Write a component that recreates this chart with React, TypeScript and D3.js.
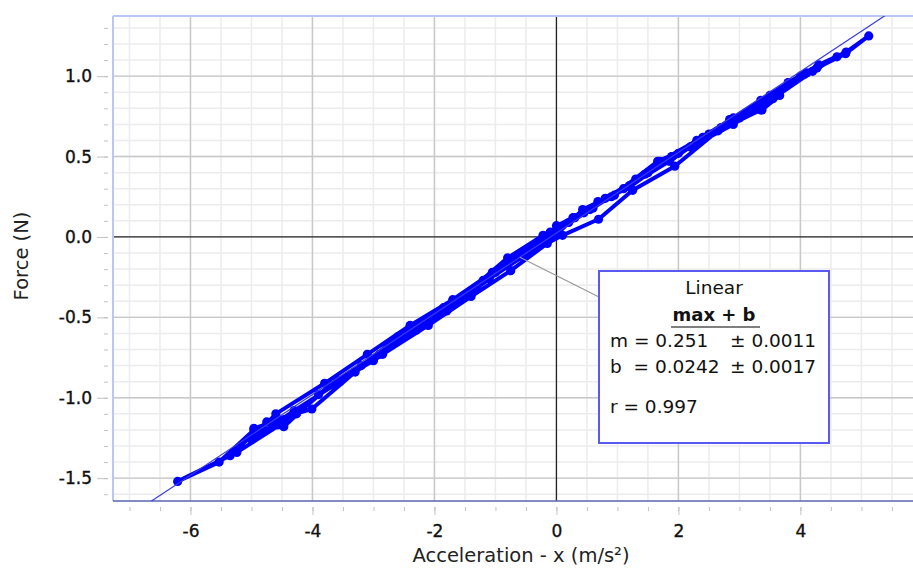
import React, { useEffect, useRef } from "react";
import * as d3 from "d3";

// tick values / labels
const xTicks = [-6, -4, -2, 0, 2, 4, 6];
const xTickLabels = ["-6", "-4", "-2", "0", "2", "4", "6"];
const yTicks = [-1.5, -1.0, -0.5, 0.0, 0.5, 1.0];
const yTickLabels = ["-1.5", "-1.0", "-0.5", "0.0", "0.5", "1.0"];

// measured run: acceleration (m/s²) and force (N), in recorded order
const accel = [
  0.0, 0.45, 0.95, 1.45, 1.9, 2.4, 2.85, 3.35, 3.8, 4.3, 4.75, 5.12,
  4.74, 4.06, 3.35, 2.65, 1.94, 1.25, 0.69, 0.1, -0.5, -1.1, -1.8, -2.5, -3.2, -3.9, -4.47, -4.96, -5.53, -6.21,
  -5.35, -4.75, -4.01, -3.3, -2.6, -1.85, -1.2, -0.6, -0.05, 0.55, 1.1, 1.7, 2.3, 2.9, 3.5, 4.0, 4.27,
  3.81, 3.1, 2.5, 1.85, 1.2, 0.68, 0.3, -0.22, -0.8, -1.54, -2.2, -2.9, -3.59, -4.26, -4.96, -5.24,
  -4.5, -3.7, -3.0, -2.3, -1.78, -1.0, -0.3, 0.27, 0.9, 1.66, 2.2, 2.84, 3.37, 3.66,
  3.0, 2.35, 1.89, 1.2, 0.43, -0.15, -0.75, -1.4, -2.1, -2.85, -3.55, -4.3, -5.0,
  -4.6, -3.8, -3.1, -2.4, -1.7, -1.05, -0.4, 0.2, 0.8, 1.5, 2.2, 2.9, 3.55, 4.2, 4.6,
  4.1, 3.4, 2.7, 2.0, 1.3, 0.6, -0.1,
];
const force = [
  0.07, 0.15, 0.26, 0.39, 0.5, 0.62, 0.73, 0.85, 0.96, 1.07, 1.15, 1.25,
  1.14, 1.01, 0.79, 0.66, 0.44, 0.29, 0.11, 0.01, -0.11, -0.26, -0.46, -0.61, -0.8, -0.98, -1.18, -1.2, -1.4, -1.52,
  -1.36, -1.15, -1.07, -0.84, -0.62, -0.44, -0.27, -0.12, 0.02, 0.17, 0.3, 0.47, 0.6, 0.74, 0.88, 1.0, 1.05,
  0.96, 0.77, 0.64, 0.47, 0.32, 0.22, 0.12, 0.01, -0.13, -0.37, -0.54, -0.73, -0.89, -1.1, -1.19, -1.34,
  -1.16, -0.92, -0.77, -0.58, -0.45, -0.22, -0.03, 0.12, 0.25, 0.47, 0.56, 0.73, 0.79, 0.88,
  0.74, 0.6, 0.5, 0.31, 0.17, -0.04, -0.21, -0.37, -0.55, -0.73, -0.9, -1.08, -1.26,
  -1.1, -0.91, -0.73, -0.55, -0.39, -0.22, -0.06, 0.09, 0.24, 0.4, 0.56, 0.7, 0.86, 1.03, 1.12,
  1.02, 0.85, 0.68, 0.52, 0.36, 0.18, 0.03,
];

// linear fit
const fitM = 0.251;
const fitB = 0.0242;
const fitLines = ["m = 0.251", "b  = 0.0242"];
const fitErrs = ["± 0.0011", "± 0.0017"];
const fitR = "r = 0.997";

const W = 913, H = 570;
const FONT = "'DejaVu Sans', Verdana, sans-serif";
const plot = { left: 113, top: 16, right: 959, bottom: 501 };

export default function App() {
  const xRef = useRef<SVGGElement>(null);
  const yRef = useRef<SVGGElement>(null);

  const x = d3.scaleLinear().domain([-7.27, 6.6]).range([plot.left, plot.right]);
  const y = d3.scaleLinear().domain([-1.642, 1.374]).range([plot.bottom, plot.top]);

  const xMinor = d3.range(-14, 14).map(i => i / 2).filter(v => x(v) > plot.left && x(v) < plot.right);
  const yMinor = d3.range(-16, 14).map(i => i / 10).filter(v => y(v) > plot.top && y(v) < plot.bottom);

  useEffect(() => {
    const gx = d3.select(xRef.current);
    gx.selectAll("*").remove();
    gx.append("g").call(
      d3.axisBottom(x).tickValues(xMinor).tickSize(4).tickFormat(() => "")
    );
    gx.append("g").call(
      d3.axisBottom(x).tickValues(xTicks).tickSize(8).tickPadding(10)
        .tickFormat((d, i) => xTickLabels[i])
    );
    gx.selectAll(".domain").remove();
    gx.selectAll("line").attr("stroke", "#c2c2c2");
    gx.selectAll("text").attr("font-size", 17).attr("font-family", FONT).attr("fill", "#111")
      .attr("stroke", "#111").attr("stroke-width", 0.35);

    const gy = d3.select(yRef.current);
    gy.selectAll("*").remove();
    gy.append("g").call(
      d3.axisLeft(y).tickValues(yMinor).tickSize(4).tickFormat(() => "")
    );
    gy.append("g").call(
      d3.axisLeft(y).tickValues(yTicks).tickSize(11).tickPadding(5)
        .tickFormat((d, i) => yTickLabels[i])
    );
    gy.selectAll(".domain").remove();
    gy.selectAll("line").attr("stroke", "#c2c2c2");
    gy.selectAll("text").attr("font-size", 17).attr("font-family", FONT).attr("fill", "#111")
      .attr("stroke", "#111").attr("stroke-width", 0.35);
  }, []);

  const pts = accel.map((a, i) => [a, force[i]] as [number, number]);
  const line = d3.line<[number, number]>().x(d => x(d[0])).y(d => y(d[1]));

  const fitX0 = x.domain()[0], fitX1 = x.domain()[1];
  const anchorA = -0.6;
  const box = { x: 599, y: 271, w: 230, h: 172 };

  return (
    <svg width={W} height={H} style={{ position: "absolute", left: 0, top: 0, display: "block", background: "#fff" }}>
      <defs>
        <clipPath id="plotClip">
          <rect x={plot.left} y={plot.top} width={plot.right - plot.left} height={plot.bottom - plot.top} />
        </clipPath>
      </defs>

      {/* grid */}
      <g>
        {xMinor.map(v => (
          <line key={"xm" + v} x1={x(v)} x2={x(v)} y1={plot.top} y2={plot.bottom} stroke="#ececec" strokeWidth={1.5} />
        ))}
        {yMinor.map(v => (
          <line key={"ym" + v} x1={plot.left} x2={plot.right} y1={y(v)} y2={y(v)} stroke="#ececec" strokeWidth={1.5} />
        ))}
        {xTicks.filter(v => v !== 0).map(v => (
          <line key={"xM" + v} x1={x(v)} x2={x(v)} y1={plot.top} y2={plot.bottom} stroke="#c8c8c8" strokeWidth={1.4} />
        ))}
        {yTicks.filter(v => v !== 0).map(v => (
          <line key={"yM" + v} x1={plot.left} x2={plot.right} y1={y(v)} y2={y(v)} stroke="#c8c8c8" strokeWidth={1.4} />
        ))}
        <line x1={x(0)} x2={x(0)} y1={plot.top} y2={plot.bottom} stroke="#222" strokeWidth={1.3} />
        <line x1={plot.left} x2={plot.right} y1={y(0)} y2={y(0)} stroke="#222" strokeWidth={1.3} />
      </g>

      {/* plot frame */}
      <line x1={plot.left} x2={plot.left} y1={plot.top} y2={plot.bottom} stroke="#b9c6f6" strokeWidth={2} />
      <line x1={plot.left} x2={plot.right} y1={plot.top} y2={plot.top} stroke="#b9c6f6" strokeWidth={2} />
      <line x1={plot.left} x2={plot.right} y1={plot.bottom} y2={plot.bottom} stroke="#5866b0" strokeWidth={1.5} />

      <g ref={xRef} transform={`translate(0,${plot.bottom + 6})`} />
      <g ref={yRef} transform={`translate(${plot.left - 5},0)`} />

      <g clipPath="url(#plotClip)">
        {/* data */}
        <path d={line(pts) || ""} fill="none" stroke="#0000ff" strokeWidth={4} strokeLinejoin="round" />
        {pts.map((p, i) => (
          <circle key={i} cx={x(p[0])} cy={y(p[1])} r={4.6} fill="#0000ff" />
        ))}
        {/* fit line */}
        <line x1={x(fitX0)} y1={y(fitM * fitX0 + fitB)} x2={x(fitX1)} y2={y(fitM * fitX1 + fitB)}
          stroke="#3a3ae6" strokeWidth={1.2} />
        {/* connector */}
        <line x1={x(anchorA)} y1={y(fitM * anchorA + fitB)} x2={box.x} y2={box.y + 26} stroke="#999" strokeWidth={1.2} />
      </g>

      {/* fit annotation */}
      <g fontFamily={FONT} fill="#111">
        <rect x={box.x} y={box.y} width={box.w} height={box.h} fill="#fff" stroke="#5a5af2" strokeWidth={2} />
        <text x={box.x + box.w / 2} y={box.y + 23} textAnchor="middle" fontSize={18.5}>Linear</text>
        <text x={box.x + box.w / 2} y={box.y + 50} textAnchor="middle" fontSize={18} fontWeight="bold">max + b</text>
        <line x1={box.x + 72} x2={box.x + 161} y1={box.y + 56} y2={box.y + 56} stroke="#555" strokeWidth={1.5} />
        {fitLines.map((t, i) => (
          <text key={t} x={box.x + 11} y={box.y + 76 + i * 26} fontSize={18.5} style={{ whiteSpace: "pre" }}>{t}</text>
        ))}
        {fitErrs.map((t, i) => (
          <text key={t + i} x={box.x + 131} y={box.y + 76 + i * 26} fontSize={18.5}>{t}</text>
        ))}
        <text x={box.x + 11} y={box.y + 142} fontSize={18.5}>{fitR}</text>
      </g>

      {/* axis titles */}
      <text x={521} y={562} textAnchor="middle" fontFamily={FONT} fontSize={19.5} fill="#222">Acceleration - x (m/s²)</text>
      <text transform="translate(28,256) rotate(-90)" textAnchor="middle" fontFamily={FONT} fontSize={19.5} fill="#222">Force (N)</text>
    </svg>
  );
}
